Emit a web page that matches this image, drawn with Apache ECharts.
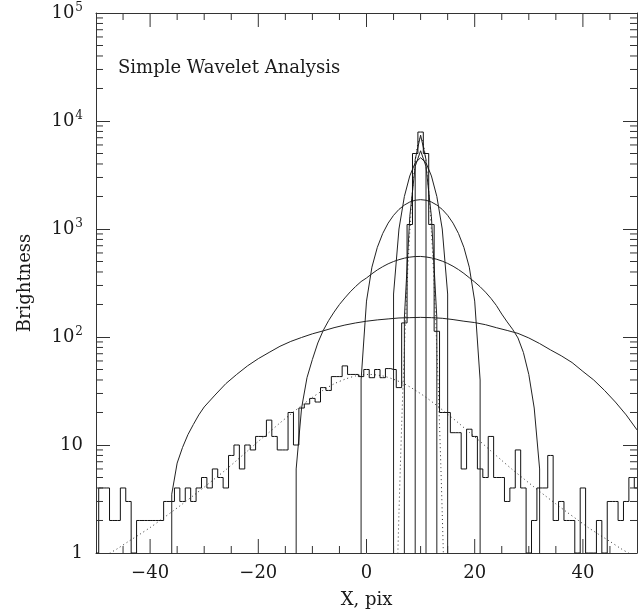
<!DOCTYPE html>
<html><head><meta charset="utf-8">
<script src="https://cdn.jsdelivr.net/npm/echarts@6/dist/echarts.min.js"></script>
<style>html,body{margin:0;padding:0;background:#fff}#c{width:640px;height:616px}</style>
</head><body><div id="c"></div>
<script>
// ---- data ----
const histStart = -50; // centre of first 1-pixel bin
const histCounts = [1,4,4,2,2,4,3,1,2,2, 2,2,2,3,3,4,3,4,3,4, 5,4,6,5,4,8,10,6,10,9,
  12,12,17,12,9,9,20,10,22,24, 27,25,34,32,43,43,54,45,45,43, 50,42,50,42,51,50,34,135,1100,5000,
  7900,5000,1100,113,20,20,13,13,6,14, 12,6,5,12,5,5,3,4,9,4, 1,2,4,4,8,2,3,2,2,1,
  4,1,1,2,1,3,3,2,3,5, 4];
const modelBroad = [[-50,0.83],[-48,0.96],[-46,1.1],[-44,1.28],[-42,1.48],[-40,1.72],[-38,2.03],[-36,2.4],[-34,2.85],
  [-32,3.4],[-30,4.07],[-28,4.9],[-26,5.9],[-24,7.2],[-22,8.8],[-20,10.8],[-18,13.1],[-16,16],[-14,19.3],[-12,23.2],
  [-10,27.6],[-8,32.2],[-6,36.8],[-4,40.6],[-2,43.6],[0.5,45],[3,43.6],[5,40.6],[7,36.8],[9,32.2],[11,27.6],[13,23.2],
  [15,19.3],[17,16],[19,13.1],[21,10.8],[23,8.8],[25,7.2],[27,5.9],[29,4.9],[31,4.07],[33,3.4],[35,2.85],[37,2.4],
  [39,2.03],[41,1.72],[43,1.48],[45,1.28],[47,1.1],[49,0.96],[50,0.89]];
const modelPeak = [[5.6,0.5],[5.75,0.84],[6,2.34],[6.25,6.2],[6.5,15.3],[6.75,35.8],[7,78],[7.25,159],[7.5,307],[7.75,555],
  [8,947],[8.25,1516],[8.5,2272],[8.75,3193],[9,4246],[9.25,5290],[9.5,6178],[9.75,6784],[10,7000],[10.25,6784],
  [10.5,6178],[10.75,5290],[11,4246],[11.25,3193],[11.5,2272],[11.75,1516],[12,947],[12.25,555],[12.5,307],[12.75,159],
  [13,78],[13.25,35.8],[13.5,15.3],[13.75,6.2],[14,2.34],[14.25,0.84],[14.4,0.5]];
// wavelet transforms at scales 1,2,4,8,16,32 pixels (positive part, sampled per pixel)
const ZERO = 1e-30; // non-positive coefficients, drawn as a drop to the axis
const waveS1 = [[9,ZERO],[9,4400],[10,7400],[11,4400],[11,ZERO]];
const waveS2 = [[7,ZERO],[7,150],[8,1300],[9,3800],[10,5300],[11,3800],[12,1300],[13,150],[13,ZERO]];
const waveS4 = [[5,ZERO],[5,250],[6,1000],[7,2000],[8,3100],[9,4100],[10,4570],[11,4100],[12,3100],[13,2000],[14,1000],[15,250],[15,ZERO]];
const waveS8 = [[-1,ZERO],[-1,40],[0,215],[1,443],[2,676],[3,909],[4,1133],[5,1338],[6,1519],[7,1666],[8,1778],[9,1847],
  [10,1870],[11,1847],[12,1778],[13,1666],[14,1519],[15,1338],[16,1133],[17,909],[18,676],[19,443],[20,215],[21,40],[21,ZERO]];
const waveS16 = [[-13,ZERO],[-13,6],[-12,22],[-11,42],[-10,62],[-9,88],[-8,115],[-7,142],[-6,170],[-5,200],[-4,230],[-3,262],
  [-2,294],[-1,326],[0,352],[1,385],[2,418],[3,448],[4,476],[5,500],[6,520],[7,537],[8,549],[9,556],[10,557],[11,551],[12,540],
  [13,524],[14,504],[15,480],[16,452],[17,421],[18,388],[19,354],[20,323],[21,292],[22,260],[23,228],[24,196],[25,163],
  [26,138],[27,118],[28,98],[29,72],[30,45],[31,22],[32,6],[32,ZERO]];
const waveS32 = [[-36,ZERO],[-36,3.5],[-35,6.8],[-34,9.5],[-33,12.5],[-32,15.5],[-31,19],[-30,22.5],[-28,29],[-26,37],
  [-24,45],[-22,54],[-20,63],[-18,72],[-16,82],[-14,91],[-12,99],[-10,107],[-8,114],[-6,122],[-4,129],[-2,135],[0,140],
  [2,144],[4,147],[6,150],[8,151],[10,152],[12,151],[14,149],[16,145],[18,140],[20,136],[22,130],[24,122],[26,115],
  [28,108],[30,98],[32,87],[34,76],[36,67],[38,58],[40,48],[42,40],[44,32],[46,25],[48,19],[50,13.8]];
const xMajor = [-40,-20,0,20,40];
const xMinor = [-45,-35,-30,-25,-15,-10,-5,5,10,15,25,30,35,45];
const yMinor = [2,3,4,5,6,7,8,9,20,30,40,50,60,70,80,90,200,300,400,500,600,700,800,900,
  2000,3000,4000,5000,6000,7000,8000,9000,20000,30000,40000,50000,60000,70000,80000,90000];
const titleText = 'Simple Wavelet Analysis';
const xName = 'X, pix';
const yName = 'Brightness';

// ---- chart ----
const FONT = 'DejaVu Serif';
const INK = '#1a1a1a';
const AX = '#333';
const GRID = {left:96, top:13, width:541, height:540};
const Y_MIN = 1, Y_MAX = 100000;
const histData = histCounts.map((v,i)=>[histStart+i, v]);
const chart = echarts.init(document.getElementById('c'), null, {renderer:'canvas'});
const frame = {show:true, onZero:false, lineStyle:{color:AX, width:1}};
const xBase = {type:'value', min:-50, max:50, splitLine:{show:false}, axisLine:frame};
const yBase = {type:'log', logBase:10, min:Y_MIN, max:Y_MAX, splitLine:{show:false}, axisLine:frame};
function yTickSeries(vals, L){
  return {type:'custom', silent:true, z:5, clip:false, xAxisIndex:0, yAxisIndex:0,
    data: vals.map(v=>[0, v]), encode:{x:0, y:1},
    renderItem:(params, api)=>{
      const st={stroke:AX, lineWidth:1};
      const v=api.value(1); const a=api.coord([-50,v]); const b=api.coord([50,v]);
      return {type:'group', children:[
        {type:'line', shape:{x1:a[0],y1:a[1],x2:a[0]+L,y2:a[1]}, style:st},
        {type:'line', shape:{x1:b[0],y1:b[1],x2:b[0]-L,y2:b[1]}, style:st}]};
    }};
}
// x ticks as broken line segments; tick length in pixels converted to the log-axis ratio
function xTickLine(vals, L){
  const decades = Math.log10(Y_MAX/Y_MIN);
  const f = Math.pow(10, L/GRID.height*decades);
  const pts = [];
  vals.forEach(v=>{
    pts.push([v, Y_MIN], [v, Y_MIN*f], null, [v, Y_MAX/f], [v, Y_MAX], null);
  });
  return {type:'line', data:pts, symbol:'none', connectNulls:false, clip:false, silent:true, z:6,
    xAxisIndex:0, yAxisIndex:0, lineStyle:{color:AX, width:1}};
}
function curve(data, extra){
  return Object.assign({type:'line', data, symbol:'none', smooth:false, clip:true,
    xAxisIndex:0, yAxisIndex:0, lineStyle:{color:'#222', width:1}, z:3, animation:false}, extra||{});
}
const dotted = {color:'#333', width:1, type:[1,3]};
chart.setOption({
  animation:false,
  backgroundColor:'#fff',
  title:{text:titleText, left:118, top:59, padding:0,
    textStyle:{fontFamily:FONT, fontSize:18, fontWeight:'normal', color:INK}},
  grid:Object.assign({containLabel:false}, GRID),
  xAxis:[
    Object.assign({}, xBase, {position:'bottom', name:xName, nameLocation:'middle', nameGap:38,
      nameTextStyle:{fontFamily:FONT, fontSize:18, color:INK},
      axisTick:{show:false},
      axisLabel:{show:true, customValues:xMajor, margin:11, fontFamily:FONT, fontSize:18, color:INK,
        formatter:v=> v<0 ? '\u2212'+Math.abs(v) : String(v)}}),
    Object.assign({}, xBase, {position:'top', axisTick:{show:false}, axisLabel:{show:false}})
  ],
  yAxis:[
    Object.assign({}, yBase, {position:'left', name:yName, nameLocation:'middle', nameGap:62, nameRotate:90,
      nameTextStyle:{fontFamily:FONT, fontSize:18, color:INK},
      axisTick:{show:true, inside:true, length:14, lineStyle:{color:AX}},
      axisLabel:{show:true, margin:13, fontFamily:FONT, fontSize:18, color:INK,
        formatter:v=>{const e=Math.round(Math.log10(v)); if(e===0) return '{b|1}'; if(e===1) return '{b|10}'; return '{b|10}{s|'+e+'}';},
        rich:{b:{fontFamily:FONT, fontSize:18, color:INK, lineHeight:22},
              s:{fontFamily:FONT, fontSize:12, color:INK, verticalAlign:'top', lineHeight:22, padding:[0,0,6,1]}}}}),
    Object.assign({}, yBase, {position:'right',
      axisTick:{show:true, inside:true, length:14, lineStyle:{color:AX}},
      axisLabel:{show:false}})
  ],
  series:[
    curve(modelBroad, {lineStyle:dotted, smooth:0.3}),
    curve(modelPeak, {lineStyle:dotted, smooth:0.3}),
    curve(waveS32), curve(waveS16), curve(waveS8), curve(waveS4), curve(waveS2), curve(waveS1),
    {type:'line', data:histData, step:'middle', symbol:'none', clip:true, xAxisIndex:0, yAxisIndex:0,
      lineStyle:{color:'#111', width:1}, z:4},
    yTickSeries(yMinor,7), xTickLine(xMajor,14), xTickLine(xMinor,7)
  ]
});
</script></body></html>
